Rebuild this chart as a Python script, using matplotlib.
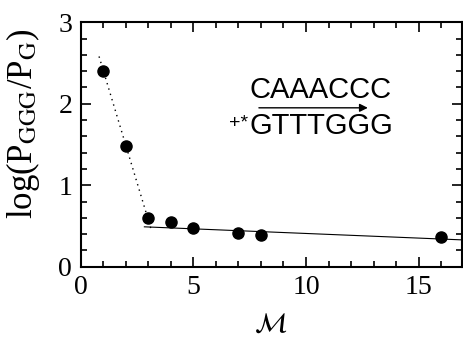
import numpy as np
import matplotlib
matplotlib.use('Agg')
import matplotlib.pyplot as plt
from matplotlib.ticker import MultipleLocator

plt.rcParams['font.family'] = 'Liberation Serif'
plt.rcParams['mathtext.fontset'] = 'stix'

# measured points
m_vals = [1, 2, 3, 4, 5, 7, 8, 16]
log_ratio = [2.40, 1.48, 0.60, 0.55, 0.48, 0.41, 0.39, 0.37]

# guide lines (fits drawn in the original)
steep_x = [0.82, 3.15]
steep_y = [2.58, 0.44]
flat_x = [2.83, 16.9]
flat_y = [0.49, 0.33]

fig = plt.figure(figsize=(4.63, 3.42), dpi=100)
ax = fig.add_axes([0.174, 0.220, 0.823, 0.715])

ax.plot(steep_x, steep_y, color='k', lw=1.0, ls=(0, (1, 3)))
ax.plot(flat_x, flat_y, color='k', lw=0.8)
ax.plot(m_vals, log_ratio, 'o', color='k', ms=8)

ax.set_xlim(0, 16.9)
ax.set_ylim(0, 3)
ax.xaxis.set_major_locator(MultipleLocator(5))
ax.xaxis.set_minor_locator(MultipleLocator(1))
ax.yaxis.set_major_locator(MultipleLocator(1))
ax.yaxis.set_minor_locator(MultipleLocator(0.2))
ax.tick_params(which='both', direction='in', top=True, right=True, width=1.2,
               labelsize=20, pad=6)
ax.tick_params(which='major', length=7)
ax.tick_params(which='minor', length=4)
for s in ax.spines.values():
    s.set_linewidth(1.5)

ax.set_xlabel(r'$\mathcal{M}$', fontsize=20, labelpad=9)
ax.set_ylabel(r'log(P$_{\rm GGG}$/P$_{\rm G}$)', fontsize=25)
ax.yaxis.set_label_coords(-0.1, 0.585)

ax.text(10.66, 2.07, 'CAAACCC', family='Liberation Sans', fontsize=21,
        ha='center', va='baseline')
ax.text(10.66, 1.63, 'GTTTGGG', family='Liberation Sans', fontsize=21,
        ha='center', va='baseline')
ax.text(7.45, 1.70, '+*', family='Liberation Sans', fontsize=14,
        ha='right', va='baseline')
ax.annotate('', xy=(12.74, 1.95), xytext=(7.91, 1.95),
            arrowprops=dict(arrowstyle='-|>', color='k', lw=1.0,
                            mutation_scale=12, shrinkA=0, shrinkB=0))

fig.savefig('out.png', dpi=100)
